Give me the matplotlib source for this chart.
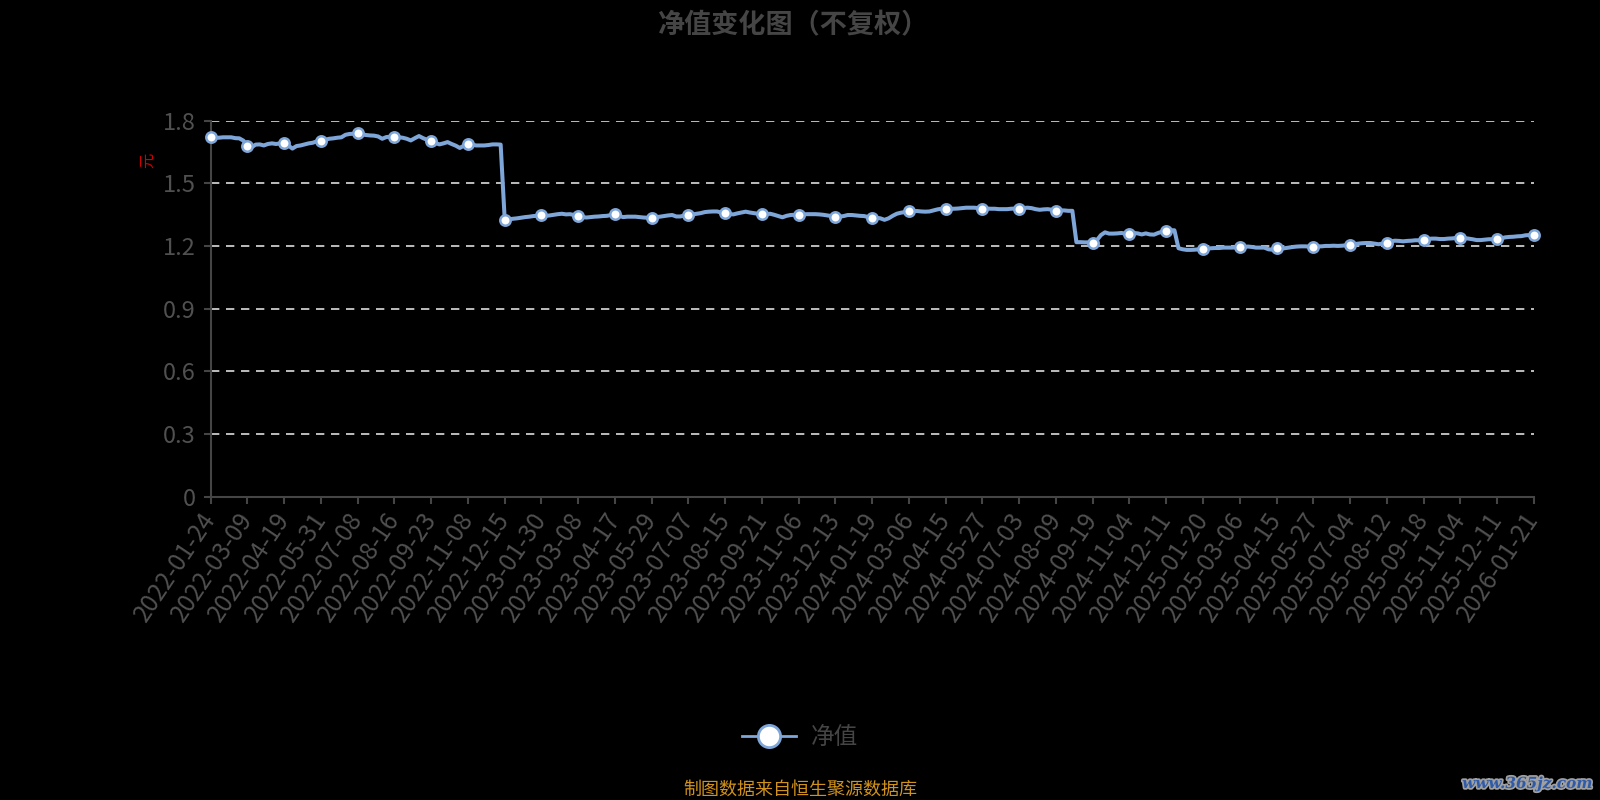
import matplotlib
matplotlib.use("Agg")
import matplotlib.pyplot as plt
import matplotlib.patheffects as pe
from matplotlib.lines import Line2D
import numpy as np

plt.rcParams['font.family'] = ['Noto Sans CJK SC', 'DejaVu Sans']

title = '净值变化图（不复权）'
series_name = '净值'
y_unit = '元'
source_note = '制图数据来自恒生聚源数据库'
watermark = 'www.365jz.com'

tick_dates = [
    '2022-01-24', '2022-03-09', '2022-04-19', '2022-05-31', '2022-07-08', '2022-08-16',
    '2022-09-23', '2022-11-08', '2022-12-15', '2023-01-30', '2023-03-08', '2023-04-17',
    '2023-05-29', '2023-07-07', '2023-08-15', '2023-09-21', '2023-11-06', '2023-12-13',
    '2024-01-19', '2024-03-06', '2024-04-15', '2024-05-27', '2024-07-03', '2024-08-09',
    '2024-09-19', '2024-11-04', '2024-12-11', '2025-01-20', '2025-03-06', '2025-04-15',
    '2025-05-27', '2025-07-04', '2025-08-12', '2025-09-18', '2025-11-04', '2025-12-11',
    '2026-01-21',
]

# NAV sampled 9 times per labelled interval (every ~3 trading days)
nav = [
    1.724, 1.719, 1.719, 1.721, 1.721, 1.721, 1.717, 1.716, 1.705,
    1.681, 1.673, 1.686, 1.687, 1.682, 1.689, 1.692, 1.689, 1.692,
    1.694, 1.682, 1.667, 1.679, 1.682, 1.687, 1.692, 1.695, 1.702,
    1.705, 1.709, 1.714, 1.716, 1.719, 1.721, 1.733, 1.737, 1.738,
    1.741, 1.735, 1.732, 1.730, 1.729, 1.725, 1.714, 1.722, 1.724,
    1.724, 1.721, 1.719, 1.714, 1.706, 1.717, 1.727, 1.717, 1.709,
    1.703, 1.694, 1.687, 1.692, 1.698, 1.689, 1.681, 1.670, 1.681,
    1.687, 1.686, 1.682, 1.682, 1.682, 1.684, 1.687, 1.687, 1.686,
    1.326, 1.328, 1.331, 1.333, 1.336, 1.339, 1.341, 1.344, 1.345,
    1.349, 1.345, 1.347, 1.350, 1.353, 1.355, 1.352, 1.353, 1.349,
    1.345, 1.339, 1.337, 1.339, 1.341, 1.342, 1.344, 1.345, 1.349,
    1.352, 1.345, 1.339, 1.341, 1.341, 1.341, 1.339, 1.337, 1.336,
    1.334, 1.338, 1.341, 1.344, 1.347, 1.349, 1.342, 1.342, 1.347,
    1.350, 1.352, 1.355, 1.358, 1.363, 1.365, 1.366, 1.366, 1.361,
    1.357, 1.353, 1.352, 1.357, 1.361, 1.365, 1.361, 1.358, 1.355,
    1.352, 1.353, 1.355, 1.350, 1.344, 1.338, 1.345, 1.349, 1.350,
    1.350, 1.352, 1.353, 1.353, 1.353, 1.352, 1.350, 1.347, 1.344,
    1.341, 1.341, 1.344, 1.349, 1.349, 1.347, 1.345, 1.344, 1.339,
    1.334, 1.336, 1.333, 1.326, 1.333, 1.345, 1.355, 1.360, 1.363,
    1.366, 1.368, 1.368, 1.366, 1.365, 1.366, 1.371, 1.376, 1.379,
    1.380, 1.379, 1.379, 1.380, 1.382, 1.384, 1.384, 1.384, 1.382,
    1.380, 1.380, 1.379, 1.379, 1.377, 1.377, 1.377, 1.379, 1.380,
    1.380, 1.382, 1.384, 1.382, 1.377, 1.374, 1.376, 1.377, 1.374,
    1.369, 1.371, 1.371, 1.369, 1.369, 1.219, 1.219, 1.218, 1.218,
    1.217, 1.228, 1.253, 1.266, 1.260, 1.260, 1.261, 1.263, 1.260,
    1.256, 1.263, 1.261, 1.256, 1.261, 1.256, 1.255, 1.263, 1.269,
    1.274, 1.276, 1.276, 1.190, 1.185, 1.182, 1.182, 1.183, 1.185,
    1.185, 1.188, 1.190, 1.191, 1.191, 1.193, 1.193, 1.193, 1.194,
    1.194, 1.196, 1.198, 1.196, 1.193, 1.193, 1.193, 1.185, 1.183,
    1.190, 1.188, 1.190, 1.193, 1.196, 1.198, 1.199, 1.199, 1.198,
    1.198, 1.199, 1.199, 1.201, 1.201, 1.202, 1.201, 1.202, 1.204,
    1.207, 1.209, 1.212, 1.214, 1.215, 1.215, 1.212, 1.209, 1.212,
    1.217, 1.223, 1.226, 1.225, 1.223, 1.225, 1.226, 1.228, 1.228,
    1.229, 1.233, 1.236, 1.236, 1.234, 1.234, 1.236, 1.237, 1.239,
    1.241, 1.239, 1.236, 1.233, 1.229, 1.229, 1.231, 1.233, 1.233,
    1.234, 1.237, 1.242, 1.244, 1.245, 1.247, 1.248, 1.252, 1.253,
    1.255,
]
steps_per_label = 9

y_ticks = [0, 0.3, 0.6, 0.9, 1.2, 1.5, 1.8]
y_tick_labels = ['0', '0.3', '0.6', '0.9', '1.2', '1.5', '1.8']

line_color = '#7ea6d8'
axis_color = '#454545'
label_color = '#505050'

fig = plt.figure(figsize=(16, 8), dpi=100, facecolor='black')
ax = fig.add_axes([0.1317, 0.379, 0.8269, 0.470])
ax.set_facecolor('black')

x = np.arange(len(nav))
ax.plot(x, nav, color=line_color, lw=2.9, solid_joinstyle='round',
        marker='o', markevery=steps_per_label, markersize=7.5,
        markerfacecolor='white', markeredgecolor=line_color,
        markeredgewidth=1.8, zorder=3, clip_on=False)

ax.set_xlim(0, len(nav) - 1)
ax.set_ylim(0, 1.8)
ax.set_yticks(y_ticks)
ax.set_yticklabels(y_tick_labels)
ax.set_xticks(x[::steps_per_label])
ax.set_xticklabels(tick_dates, rotation=56, ha='right', va='center',
                   rotation_mode='anchor')

for yv in y_ticks[1:]:
    ax.axhline(yv, color='#dcdcdc', lw=1.2, dashes=(5, 4), zorder=1)

for s in ['top', 'right']:
    ax.spines[s].set_visible(False)
for s in ['left', 'bottom']:
    ax.spines[s].set_color(axis_color)
    ax.spines[s].set_linewidth(1.5)

ax.tick_params(axis='both', colors=axis_color, length=5, width=1.5,
               labelcolor=label_color, labelsize=17)
ax.tick_params(axis='x', pad=8, labelsize=17.5)
ax.tick_params(axis='y', pad=6)

fig.text(793 / 1600, 1 - 25 / 800, title, fontsize=19.5, fontweight='bold',
         color='#454545', ha='center', va='center')
fig.text(148 / 1600, 1 - 160 / 800, y_unit, fontsize=11, color='#d40000',
         rotation=90, ha='center', va='center')

handle = Line2D([0], [0], color=line_color, lw=2, marker='o', markersize=16,
                markerfacecolor='white', markeredgecolor=line_color,
                markeredgewidth=2)
fig.legend([handle], [series_name], loc='center', bbox_to_anchor=(0.5, 0.078),
           frameon=False, fontsize=17, labelcolor='#454545', handlelength=2.3,
           handletextpad=0.6)

fig.text(0.5, 1 - 790 / 800, source_note, fontsize=13, color='#d0921c',
         ha='center', va='center')
fig.text(0.995, 1 - 784 / 800, watermark, fontsize=11, fontweight='bold',
         style='italic', family='DejaVu Serif', color='#2f5aa8', ha='right',
         va='center',
         path_effects=[pe.withStroke(linewidth=2.5, foreground='#a0a0a0')])

fig.savefig('out.png', dpi=100, facecolor='black')
